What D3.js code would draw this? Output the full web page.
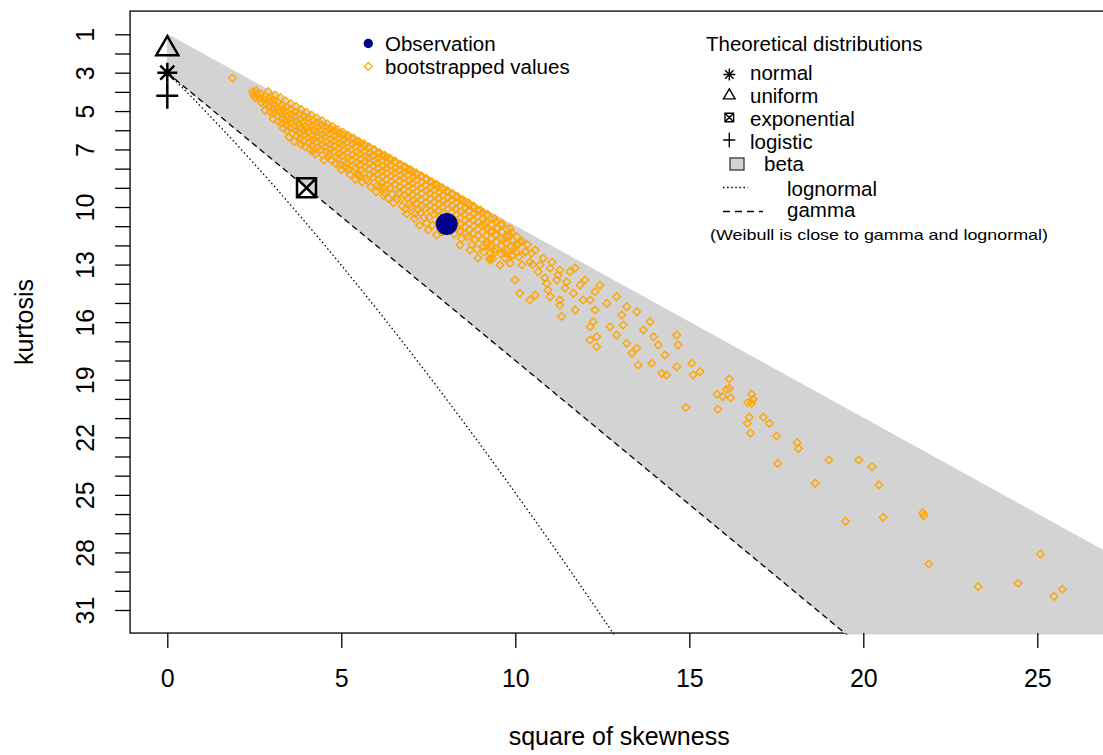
<!DOCTYPE html>
<html><head><meta charset="utf-8">
<script src="https://cdn.jsdelivr.net/npm/d3@7"></script>
<style>html,body{margin:0;padding:0;background:#fff;overflow:hidden}svg{display:block}</style>
</head><body><svg id="chart" width="1103" height="755"></svg>
<script>
// ---------- data ----------
const xTicks = [0, 5, 10, 15, 20, 25];
const kurtTicks = [1,2,3,4,5,6,7,8,9,10,11,12,13,14,15,16,17,18,19,20,21,22,23,24,25,26,27,28,29,30,31];
const kurtTickLabels = [1, 3, 5, 7, 10, 13, 16, 19, 22, 25, 28, 31];
const xLabel = "square of skewness";
const yLabel = "kurtosis";

const observation = [[8.03, 10.89]];
const theoNames = ["normal", "uniform", "exponential", "logistic"];
const theoSkew2 = [0, 0, 4, 0];
const theoKurt = [3, 1.8, 9, 4.2];

// beta region limits (square of skewness, kurtosis)
const betaLowerLimit = [[0, 1], [30, 31]];
const betaUpperLimit = [[0, 3], [30, 48]];
const gammaLine = [[0, 3], [30, 48]];
// lognormal: w = exp(sigma^2)
const lognormalW = [1, 1.02, 1.05, 1.08, 1.12, 1.16, 1.2, 1.25, 1.3, 1.35, 1.4, 1.45, 1.5, 1.55, 1.6, 1.65, 1.7, 1.75, 1.8, 1.85, 1.9];

const legendObs = ["Observation", "bootstrapped values"];
const legendTheoTitle = "Theoretical distributions";
const legendTheo = ["normal", "uniform", "exponential", "logistic", "beta", "lognormal", "gamma"];
const legendNote = "(Weibull is close to gamma and lognormal)";

const bootstrapped = [
[1.87,3.28],
[2.45,3.98],[2.47,4.15],
[2.55,3.95],[2.58,4.14],[2.53,4.30],
[2.68,4.10],[2.66,4.32],[2.70,4.55],
[2.80,4.22],[2.78,4.40],[2.83,4.62],[2.81,4.95],
[2.93,4.35],[2.95,4.52],[2.91,4.78],[2.96,5.05],
[3.05,4.42],[3.07,4.65],[3.03,4.88],[3.06,5.12],[3.04,5.40],
[3.18,4.55],[3.16,4.80],[3.20,5.02],[3.17,5.25],[3.19,5.55],
[3.30,4.68],[3.32,4.90],[3.28,5.15],[3.31,5.38],[3.29,5.62],[3.33,5.90],
[3.42,4.80],[3.40,5.02],[3.44,5.28],[3.41,5.50],[3.43,5.75],[3.45,6.02],
[3.55,4.92],[3.57,5.15],[3.53,5.40],[3.56,5.62],[3.54,5.88],[3.58,6.15],
[3.68,5.05],[3.66,5.30],[3.70,5.52],[3.67,5.78],[3.69,6.00],[3.72,6.30],[3.65,6.58],
[3.80,5.15],[3.82,5.42],[3.78,5.65],[3.81,5.90],[3.79,6.12],[3.83,6.40],
[3.93,5.28],[3.91,5.55],[3.95,5.80],[3.92,6.02],[3.94,6.25],[3.90,6.55],[3.96,6.85],
[4.05,5.35],[4.07,5.62],[4.03,5.88],[4.06,6.10],[4.04,6.38],[4.08,6.62],
[4.18,5.50],[4.16,5.75],[4.20,6.00],[4.17,6.25],[4.19,6.50],[4.15,6.78],[4.21,7.05],
[4.30,5.60],[4.32,5.85],[4.28,6.10],[4.31,6.35],[4.29,6.60],[4.33,6.88],
[4.43,5.72],[4.41,5.98],[4.45,6.22],[4.42,6.48],[4.44,6.75],[4.40,7.02],[4.46,7.30],
[4.55,5.82],[4.57,6.08],[4.53,6.35],[4.56,6.60],[4.54,6.85],[4.58,7.12],
[4.68,5.92],[4.66,6.18],[4.70,6.45],[4.67,6.72],[4.69,6.98],[4.65,7.25],[4.71,7.55],
[4.80,6.02],[4.82,6.30],[4.78,6.55],[4.81,6.82],[4.79,7.10],[4.83,7.38],
[4.93,6.15],[4.91,6.42],[4.95,6.68],[4.92,6.95],[4.94,7.22],[4.90,7.48],[4.96,7.80],
[5.05,6.25],[5.07,6.52],[5.03,6.78],[5.06,7.05],[5.04,7.32],[5.08,7.60],
[5.18,6.35],[5.16,6.62],[5.20,6.90],[5.17,7.18],[5.19,7.45],[5.15,7.72],[5.21,8.05],
[5.30,6.45],[5.32,6.72],[5.28,7.00],[5.31,7.28],[5.29,7.55],[5.33,7.85],
[5.43,6.58],[5.41,6.85],[5.45,7.12],[5.42,7.40],[5.44,7.68],[5.40,7.95],[5.46,8.28],
[5.55,6.68],[5.57,6.95],[5.53,7.22],[5.56,7.50],[5.54,7.78],[5.58,8.08],[5.52,8.40],[5.60,8.70],
[5.68,6.80],[5.66,7.08],[5.70,7.35],[5.67,7.62],[5.69,7.90],[5.65,8.20],
[5.80,6.92],[5.82,7.18],[5.78,7.45],[5.81,7.72],[5.79,8.02],[5.83,8.32],[5.77,8.65],
[5.93,7.05],[5.91,7.32],[5.95,7.58],[5.92,7.85],[5.94,8.15],[5.90,8.45],
[6.05,7.18],[6.07,7.45],[6.03,7.72],[6.06,8.00],[6.04,8.28],[6.08,8.58],[6.02,8.90],
[6.18,7.30],[6.16,7.58],[6.20,7.85],[6.17,8.12],[6.19,8.40],[6.15,8.70],[6.21,9.02],[6.22,9.40],
[6.30,7.42],[6.32,7.70],[6.28,7.98],[6.31,8.25],[6.29,8.55],[6.33,8.85],
[6.43,7.55],[6.41,7.82],[6.45,8.10],[6.42,8.38],[6.44,8.68],[6.40,9.00],[6.46,9.35],[6.50,9.78],
[6.55,7.68],[6.57,7.95],[6.53,8.22],[6.56,8.50],[6.54,8.80],[6.58,9.12],
[6.68,7.80],[6.66,8.08],[6.70,8.35],[6.67,8.65],[6.69,8.95],[6.65,9.25],[6.71,9.60],
[6.80,7.92],[6.82,8.20],[6.78,8.48],[6.81,8.78],[6.79,9.08],[6.83,9.40],[6.85,10.10],
[6.93,8.05],[6.91,8.32],[6.95,8.62],[6.92,8.90],[6.94,9.20],[6.90,9.52],[6.96,9.85],
[7.05,8.18],[7.07,8.45],[7.03,8.75],[7.06,9.05],[7.04,9.35],[7.08,9.65],[7.10,10.60],
[7.18,8.30],[7.16,8.58],[7.20,8.88],[7.17,9.18],[7.19,9.48],[7.15,9.80],[7.21,10.15],
[7.30,8.42],[7.32,8.70],[7.28,9.00],[7.31,9.30],[7.29,9.62],[7.33,9.95],[7.27,10.30],[7.25,10.95],
[7.43,8.55],[7.41,8.85],[7.45,9.15],[7.42,9.45],[7.44,9.75],[7.40,10.08],
[7.55,8.70],[7.57,8.98],[7.53,9.28],[7.56,9.58],[7.54,9.90],[7.58,10.22],[7.52,10.55],[7.50,11.20],
[7.68,8.82],[7.66,9.10],[7.70,9.40],[7.67,9.72],[7.69,10.05],[7.65,10.38],[7.74,11.46],
[7.80,8.95],[7.82,9.25],[7.78,9.55],[7.81,9.85],[7.79,10.18],[7.83,10.50],[7.77,10.85],
[7.93,9.08],[7.91,9.38],[7.95,9.68],[7.92,10.00],[7.94,10.32],[7.90,10.65],[7.90,11.30],
[8.05,9.22],[8.07,9.50],[8.03,9.82],[8.06,10.12],[8.04,10.45],[8.08,10.78],[8.02,11.10],
[8.18,9.35],[8.16,9.65],[8.20,9.95],[8.17,10.28],[8.19,10.60],[8.15,10.92],
[8.30,9.48],[8.32,9.78],[8.28,10.10],[8.31,10.42],[8.29,10.75],[8.33,11.08],
[8.43,9.62],[8.41,9.92],[8.45,10.25],[8.42,10.55],[8.44,10.90],[8.40,11.25],
[8.55,9.75],[8.57,10.05],[8.53,10.38],[8.56,10.70],[8.54,11.02],[8.58,11.40],
[8.68,9.90],[8.66,10.20],[8.70,10.52],[8.67,10.85],[8.69,11.20],
[8.80,10.02],[8.82,10.35],[8.78,10.68],[8.81,11.00],[8.79,11.35],[8.83,11.70],
[8.93,10.18],[8.91,10.48],[8.95,10.80],[8.92,11.15],[8.94,11.50],
[9.05,10.30],[9.07,10.62],[9.03,10.95],[9.06,11.30],[9.04,11.68],[9.08,12.05],
[9.18,10.45],[9.16,10.78],[9.20,11.12],[9.17,11.48],[9.19,11.85],
[9.30,10.60],[9.32,10.92],[9.28,11.28],[9.31,11.62],[9.29,12.00],[9.27,12.40],[9.27,12.67],
[9.45,10.78],[9.47,11.10],[9.43,11.45],[9.46,11.82],[9.44,12.20],
[9.60,10.95],[9.62,11.30],[9.58,11.65],[9.61,12.00],[9.59,12.45],
[9.75,11.15],[9.77,11.50],[9.73,11.88],[9.76,12.25],[9.70,12.40],
[9.90,11.35],[9.92,11.72],[9.88,12.10],[9.91,12.55],[9.85,12.93],
[10.05,11.55],[10.07,11.95],[10.03,12.35],[10.10,12.60],
// upper rim of the cloud
[2.90,3.98],[3.10,4.17],[3.25,4.31],[3.40,4.47],[3.55,4.62],[3.70,4.76],[3.85,4.92],[4.00,5.06],
[4.15,5.22],[4.30,5.36],[4.45,5.51],[4.60,5.67],[4.75,5.81],[4.90,5.97],[5.05,6.11],[5.20,6.26],
[5.35,6.41],[5.50,6.57],[5.65,6.71],[5.80,6.86],[5.95,7.01],[6.10,7.17],[6.25,7.31],[6.40,7.46],
[6.55,7.61],[6.70,7.77],[6.85,7.91],[7.00,8.06],[7.15,8.22],[7.30,8.37],[7.45,8.52],[7.60,8.68],
[7.75,8.83],[7.90,8.99],[8.05,9.14],[8.20,9.30],[8.35,9.46],[8.50,9.62],[8.65,9.78],[8.80,9.95],
[9.00,10.16],[9.20,10.38],[9.40,10.60],[9.60,10.85],[9.85,11.12],
// lower fringe of the cloud
[3.50,6.35],[3.85,6.75],[4.10,7.00],[4.25,7.25],[4.50,7.55],[4.62,7.40],[4.85,7.75],[5.00,8.05],
[5.12,7.95],[5.25,8.30],[5.40,8.55],[5.50,8.30],[5.72,8.55],[5.85,8.95],[6.00,9.20],[6.10,8.95],
[6.25,9.25],[6.35,9.55],[6.60,9.60],[6.75,9.95],[6.88,10.35],[7.00,10.00],[7.12,10.35],[7.38,10.55],
[7.45,10.85],[7.62,10.95],[7.85,11.20],[8.25,11.40],[8.45,11.65],[8.62,11.55],[8.75,11.95],[8.90,12.20],
[9.10,12.35],[9.35,12.70],
// cluster right of the observation
[9.13,10.94],[9.33,11.30],[9.50,11.09],[9.65,11.72],[9.85,11.51],[9.99,12.14],[10.14,11.82],[9.19,11.98],
[9.42,12.35],[9.70,12.66],[9.91,12.50],[10.28,12.35],[10.42,12.87],[10.57,12.24],[10.71,13.02],[10.19,13.02],
[9.56,13.02],[9.27,12.76],[10.85,13.70],[11.05,12.87],[11.23,13.54],[11.43,14.22],[11.72,13.18],[12.00,13.80],
[10.94,14.33],[10.57,14.59],[12.15,14.85],[12.43,14.07],[11.28,15.11],[8.84,11.72],[8.70,12.24],[8.41,11.98],
[8.93,12.66],
// sparse tail
[10.20,11.80],[10.30,12.30],[10.35,11.95],[10.50,13.00],[10.47,12.41],[10.80,12.67],
[9.99,13.80],[10.13,14.50],[10.42,14.85],[10.66,13.37],[11.00,13.19],[11.28,13.28],[11.57,13.37],
[10.90,13.98],[11.19,13.80],[11.48,13.90],[11.86,14.07],[11.00,14.67],[11.28,14.85],[11.67,14.50],
[11.95,14.85],[11.33,15.70],[11.72,15.37],[12.24,15.98],[12.29,14.41],[12.91,14.67],[12.63,15.02],
[12.29,15.37],[12.15,16.24],[12.34,16.76],[12.72,16.24],[12.91,16.67],[13.10,16.15],[13.20,15.20],
[13.49,15.46],[13.06,15.63],[12.15,16.93],[12.34,17.28],[13.20,17.10],[13.49,17.36],[13.35,17.62],
[13.87,15.98],[13.68,16.41],[13.97,16.76],[14.11,17.19],[14.64,16.67],[14.68,17.19],[14.30,17.71],
[13.53,18.23],[13.92,18.14],[14.21,18.67],[14.35,18.75],[14.64,18.32],[15.07,18.14],[15.31,18.58],
[15.11,18.75],[14.90,20.45],
[16.15,18.96],[16.07,19.50],[16.15,19.45],[15.80,19.76],[15.96,19.88],[16.19,19.94],
[16.79,19.76],[16.84,20.02],[16.68,20.20],[16.79,20.23],[15.82,20.54],[16.72,20.96],[16.67,21.27],
[17.13,20.96],[17.30,21.27],[16.76,21.79],[17.51,21.93],[18.10,22.28],[18.14,22.59],[17.54,23.36],
[19.01,23.18],[19.87,23.18],[20.25,23.53],[18.62,24.40],[20.45,24.47],[21.71,25.93],[21.74,26.09],
[19.49,26.38],[20.57,26.17],[21.88,28.60],[25.09,28.08],[23.30,29.79],[24.45,29.61],[25.72,29.92],
[25.48,30.29]
];

// ---------- layout ----------
const W = 1103, H = 755;
const svg = d3.select("#chart");
svg.append("rect").attr("width", W).attr("height", H).attr("fill", "#fff");
const font = "'Liberation Sans', Arial, Helvetica, sans-serif";

const x = d3.scaleLinear().domain([0, 25]).range([167.3, 1037.3]);
const y = d3.scaleLinear().domain([1, 31]).range([34.3, 610]);
const xMin = -1.07, xMax = 27.04, kTop = -0.21, kBottom = 32.2;
const pLeft = x(xMin), pRight = x(xMax), pTop = y(kTop), pBottom = y(kBottom);

svg.append("defs").append("clipPath").attr("id", "plotclip")
  .append("rect").attr("x", pLeft).attr("y", pTop).attr("width", pRight - pLeft).attr("height", pBottom - pTop + 1.5);

// box
svg.append("rect").attr("x", pLeft).attr("y", pTop).attr("width", pRight - pLeft).attr("height", pBottom - pTop)
  .attr("fill", "none").attr("stroke", "#000").attr("stroke-width", 1.3);

const plot = svg.append("g").attr("clip-path", "url(#plotclip)");

// beta region
const betaPoly = betaLowerLimit.concat(betaUpperLimit.slice().reverse());
plot.append("polygon")
  .attr("points", betaPoly.map(d => [x(d[0]), y(d[1])].join(",")).join(" "))
  .attr("fill", "#D3D3D3").attr("stroke", "#D3D3D3").attr("stroke-width", 1);

// lognormal curve
const lognormalPts = lognormalW.map(w => [(w + 2) * (w + 2) * (w - 1), w ** 4 + 2 * w ** 3 + 3 * w * w - 3]);
plot.append("path").attr("d", d3.line().x(d => x(d[0])).y(d => y(d[1])).curve(d3.curveCatmullRom)(lognormalPts))
  .attr("fill", "none").attr("stroke", "#000").attr("stroke-width", 1.3).attr("stroke-dasharray", "1.5 2.6");
// gamma line
plot.append("path").attr("d", d3.line().x(d => x(d[0])).y(d => y(d[1]))(gammaLine))
  .attr("fill", "none").attr("stroke", "#000").attr("stroke-width", 1.3).attr("stroke-dasharray", "6 4");

// bootstrapped values
const diamond = r => `M0,${-r}L${r},0L0,${r}L${-r},0Z`;
plot.append("g").selectAll("path").data(bootstrapped).join("path")
  .attr("transform", d => `translate(${x(d[0])},${y(d[1])})`)
  .attr("d", diamond(3.8))
  .attr("fill", "none").attr("stroke", "#FFA500").attr("stroke-width", 1.4);

// observation
plot.append("g").selectAll("circle").data(observation).join("circle")
  .attr("cx", d => x(d[0])).attr("cy", d => y(d[1])).attr("r", 11).attr("fill", "#00008B");

// theoretical markers
const markerPaths = {
  normal: s => { const d = s * 0.7; return `M${-s},0H${s}M0,${-s}V${s}M${-d},${-d}L${d},${d}M${-d},${d}L${d},${-d}`; },
  uniform: s => `M0,${-s * 1.35}L${s * 1.1},${s * 0.55}L${-s * 1.1},${s * 0.55}Z`,
  exponential: s => `M${-s},${-s}H${s}V${s}H${-s}ZM${-s},${-s}L${s},${s}M${-s},${s}L${s},${-s}`,
  logistic: s => `M${-s * 1.1},0H${s * 1.1}M0,${-s * 1.3}V${s * 1.3}`
};
const theo = theoNames.map((n, i) => ({name: n, s2: theoSkew2[i], k: theoKurt[i]}));
svg.append("g").selectAll("path").data(theo).join("path")
  .attr("transform", d => `translate(${x(d.s2)},${y(d.k)})`)
  .attr("d", d => markerPaths[d.name](d.name === "exponential" ? 9.5 : 10))
  .attr("fill", "none").attr("stroke", "#000").attr("stroke-width", 2.5);

// axes
const xAxis = svg.append("g").attr("transform", `translate(0,${pBottom})`)
  .call(d3.axisBottom(x).tickValues(xTicks).tickSize(15).tickSizeOuter(0));
xAxis.select(".domain").remove();
xAxis.selectAll("line").attr("stroke", "#000").attr("stroke-width", 1.3);
xAxis.selectAll("text").attr("y", 54).attr("dy", 0).attr("font-family", font).attr("font-size", 25).attr("fill", "#000");

const yAxis = svg.append("g").attr("transform", `translate(${pLeft},0)`)
  .call(d3.axisLeft(y).tickValues(kurtTicks).tickSize(15).tickSizeOuter(0)
    .tickFormat(d => kurtTickLabels.includes(d) ? String(d) : ""));
yAxis.select(".domain").remove();
yAxis.selectAll("line").attr("stroke", "#000").attr("stroke-width", 1.3);
yAxis.selectAll("text").attr("x", 0).attr("y", -36).attr("dy", 0)
  .attr("text-anchor", "middle").attr("transform", "rotate(-90)")
  .attr("font-family", font).attr("font-size", 25).attr("fill", "#000");

svg.append("text").attr("x", (pLeft + pRight) / 2).attr("y", 745).attr("text-anchor", "middle")
  .attr("font-family", font).attr("font-size", 25).text(xLabel);
svg.append("text").attr("transform", `translate(33,${(pTop + pBottom) / 2}) rotate(-90)`).attr("text-anchor", "middle")
  .attr("font-family", font).attr("font-size", 25).text(yLabel);

// legend 1
const lg1 = svg.append("g").attr("font-family", font).attr("font-size", 20.5);
lg1.append("circle").attr("cx", 368.3).attr("cy", 43.5).attr("r", 4.7).attr("fill", "#00008B");
lg1.append("path").attr("transform", "translate(368.3,66.5)").attr("d", diamond(4))
  .attr("fill", "none").attr("stroke", "#FFA500").attr("stroke-width", 1.2);
lg1.selectAll("text").data(legendObs).join("text")
  .attr("x", 385).attr("y", (d, i) => 51 + i * 22.8).text(d => d);

// legend 2
const lg2 = svg.append("g").attr("font-family", font).attr("font-size", 20.5);
lg2.append("text").attr("x", 706).attr("y", 51).text(legendTheoTitle);
const rowY = [80, 103, 126, 148.5, 170.5, 195.5, 217];
const textX = [750, 750, 750, 750, 764, 787, 787];
lg2.selectAll("text.item").data(legendTheo).join("text").attr("class", "item")
  .attr("x", (d, i) => textX[i]).attr("y", (d, i) => rowY[i]).text(d => d);
const mk = lg2.append("g").attr("fill", "none").attr("stroke", "#000").attr("stroke-width", 1.4);
mk.append("path").attr("transform", "translate(729.3,74.5)").attr("d", markerPaths.normal(6));
mk.append("path").attr("transform", "translate(729.3,96)").attr("d", markerPaths.uniform(5.3));
mk.append("path").attr("transform", "translate(729.3,117.5)").attr("d", markerPaths.exponential(4.3));
mk.append("path").attr("transform", "translate(729.3,140)").attr("d", markerPaths.logistic(5.5));
lg2.append("rect").attr("x", 730).attr("y", 158).attr("width", 14).attr("height", 12)
  .attr("fill", "#D3D3D3").attr("stroke", "#333").attr("stroke-width", 1.3);
lg2.append("line").attr("x1", 723).attr("x2", 748).attr("y1", 187.5).attr("y2", 187.5)
  .attr("stroke", "#000").attr("stroke-width", 1.3).attr("stroke-dasharray", "1.5 2.6");
lg2.append("line").attr("x1", 723).attr("x2", 763).attr("y1", 211.5).attr("y2", 211.5)
  .attr("stroke", "#000").attr("stroke-width", 1.3).attr("stroke-dasharray", "7 5");
lg2.append("text").attr("x", 710).attr("y", 240).attr("font-size", 14.5)
  .attr("textLength", 338).attr("lengthAdjust", "spacingAndGlyphs").text(legendNote);
</script>
</body></html>
